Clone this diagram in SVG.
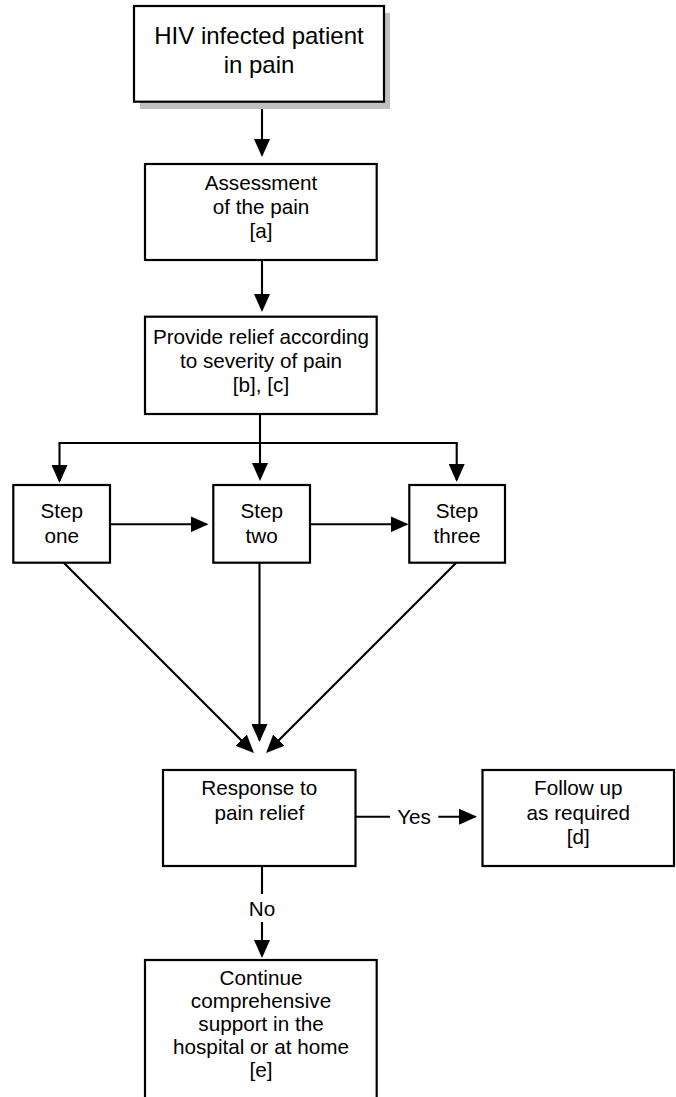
<svg xmlns="http://www.w3.org/2000/svg" width="676" height="1097" viewBox="0 0 676 1097">
<defs>
<marker id="ah" markerUnits="userSpaceOnUse" viewBox="0 0 18 16" markerWidth="18" markerHeight="16" refX="16" refY="8" orient="auto">
<path d="M0,0 L18,8 L0,16 z" fill="#000"/>
</marker>
</defs>
<style>
.box{fill:#fff;stroke:#000;stroke-width:2.2}
.shadow{fill:#c0c0c0}
.t{font-family:"Liberation Sans",Arial,sans-serif;font-size:20.7px;fill:#000;text-anchor:middle}
.big{font-size:24px}
.c{stroke:#000;stroke-width:2.1;fill:none}
.a{marker-end:url(#ah)}
</style>
<rect width="676" height="1097" fill="#fff"/>

<g id="connectors">
<line class="c a" x1="262" y1="102" x2="262" y2="155"/>
<line class="c a" x1="262" y1="260" x2="262" y2="310"/>
<line class="c a" x1="260" y1="414" x2="260" y2="479"/>
<line class="c" x1="58.5" y1="443" x2="457.7" y2="443"/>
<line class="c a" x1="59.5" y1="443" x2="59.5" y2="481"/>
<line class="c a" x1="456.7" y1="443" x2="456.7" y2="480"/>
<line class="c a" x1="110" y1="524.3" x2="206.5" y2="524.3"/>
<line class="c a" x1="310" y1="524.3" x2="406.5" y2="524.3"/>
<line class="c a" x1="64" y1="563" x2="252.5" y2="751.5"/>
<line class="c a" x1="259.5" y1="563" x2="259.5" y2="740"/>
<line class="c a" x1="456" y1="563" x2="267.5" y2="751.5"/>
<line class="c" x1="355.5" y1="816.7" x2="390" y2="816.7"/>
<line class="c a" x1="438.3" y1="816.7" x2="475" y2="816.7"/>
<text class="t" x="414" y="823.5">Yes</text>
<line class="c" x1="262" y1="866" x2="262" y2="894"/>
<line class="c a" x1="262" y1="922" x2="262" y2="956"/>
<text class="t" x="262" y="916">No</text>
</g>

<g id="n1">
<rect class="shadow" x="140" y="13" width="250" height="96"/>
<rect class="box" x="134" y="6" width="250" height="95.7"/>
<text class="t big" x="259" y="44">HIV infected patient</text>
<text class="t big" x="259" y="73">in pain</text>
</g>

<g id="n2">
<rect class="box" x="145" y="164" width="231.7" height="96"/>
<text class="t" x="261" y="189.5">Assessment</text>
<text class="t" x="261" y="213.5">of the pain</text>
<text class="t" x="261" y="237.5">[a]</text>
</g>

<g id="n3">
<rect class="box" x="145" y="316.7" width="231.7" height="97.3"/>
<text class="t" x="261" y="343.5">Provide relief according</text>
<text class="t" x="261" y="368">to severity of pain</text>
<text class="t" x="261" y="392">[b], [c]</text>
</g>

<g id="s1">
<rect class="box" x="13.3" y="485" width="96.7" height="77.7"/>
<text class="t" x="61.7" y="518.3">Step</text>
<text class="t" x="61.7" y="543.3">one</text>
</g>

<g id="s2">
<rect class="box" x="213.3" y="485" width="96.7" height="77.7"/>
<text class="t" x="261.7" y="518.3">Step</text>
<text class="t" x="261.7" y="543.3">two</text>
</g>

<g id="s3">
<rect class="box" x="409.3" y="485" width="95.7" height="77.7"/>
<text class="t" x="457" y="518.3">Step</text>
<text class="t" x="457" y="543.3">three</text>
</g>

<g id="n4">
<rect class="box" x="163" y="770" width="192.5" height="96"/>
<text class="t" x="259.3" y="795">Response to</text>
<text class="t" x="259.3" y="820">pain relief</text>
</g>

<g id="n5">
<rect class="box" x="482.5" y="770" width="191.5" height="96"/>
<text class="t" x="578.3" y="795">Follow up</text>
<text class="t" x="578.3" y="820">as required</text>
<text class="t" x="578.3" y="844">[d]</text>
</g>

<g id="n6">
<rect class="box" x="145" y="960" width="231.7" height="160"/>
<text class="t" x="261" y="985">Continue</text>
<text class="t" x="261" y="1007.5">comprehensive</text>
<text class="t" x="261" y="1030.5">support in the</text>
<text class="t" x="261" y="1053.5">hospital or at home</text>
<text class="t" x="261" y="1076.5">[e]</text>
</g>
</svg>
